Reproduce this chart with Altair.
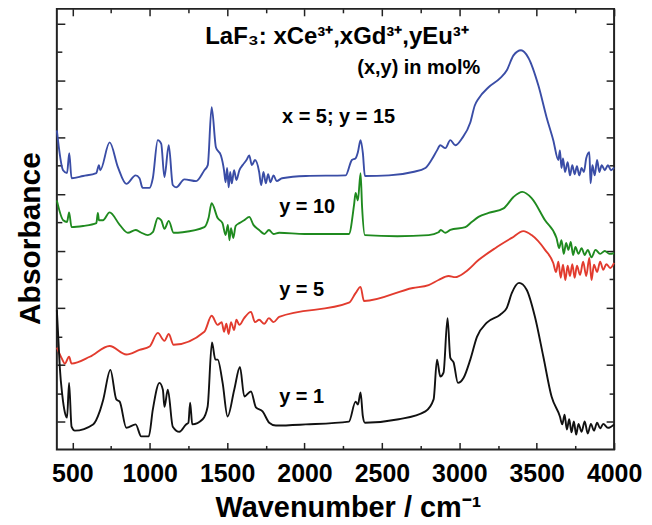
import altair as alt
import pandas as pd

# ---------------- data (wavenumber cm-1, absorbance a.u., offset for clarity) ----------------
blue = [(400,0.512),(440,0.442),(466,0.437),(480,0.472),(495,0.428),(570,0.432),(655,0.437),(665,0.446),(672,0.451),(680,0.442),
        (741,0.491),(795,0.447),(849,0.418),(909,0.433),(934,0.428),(954,0.411),(999,0.411),(1020,0.428),(1052,0.495),(1074,0.489),
        (1095,0.430),(1123,0.486),(1149,0.416),(1171,0.412),(1224,0.426),(1300,0.423),(1353,0.442),(1375,0.451),(1400,0.553),(1428,0.482),
        (1460,0.468),(1480,0.442),(1490,0.421),(1500,0.446),(1510,0.412),(1520,0.439),(1530,0.419),(1545,0.442),(1560,0.425),(1579,0.442),
        (1600,0.451),(1625,0.460),(1643,0.468),(1660,0.451),(1680,0.460),(1707,0.439),(1720,0.416),(1735,0.439),(1750,0.419),(1765,0.435),
        (1780,0.421),(1800,0.433),(1820,0.423),(1855,0.428),(2008,0.432),(2266,0.433),(2306,0.460),(2330,0.463),(2345,0.474),(2362,0.495),
        (2377,0.472),(2390,0.432),(2545,0.433),(2700,0.439),(2781,0.446),(2820,0.460),(2856,0.477),(2877,0.486),(2910,0.481),(2942,0.495),
        (2974,0.486),(3017,0.498),(3071,0.526),(3100,0.556),(3124,0.568),(3189,0.588),(3264,0.604),(3307,0.618),(3350,0.644),(3399,0.653),
        (3446,0.640),(3511,0.591),(3564,0.535),(3607,0.495),(3640,0.460),(3650,0.477),(3660,0.446),(3670,0.463),(3683,0.439),(3700,0.456),
        (3715,0.433),(3730,0.451),(3745,0.435),(3760,0.449),(3775,0.433),(3790,0.446),(3805,0.439),(3820,0.463),(3840,0.474),(3848,0.419),
        (3860,0.451),(3875,0.433),(3890,0.460),(3905,0.439),(3920,0.451),(3940,0.442),(3960,0.451),(3980,0.442),(4000,0.447)]

green = [(400,0.389),(441,0.354),(466,0.351),(479,0.368),(495,0.342),(570,0.344),(655,0.349),(665,0.367),(672,0.354),(698,0.354),
         (741,0.368),(806,0.346),(859,0.332),(909,0.337),(940,0.333),(988,0.328),(1020,0.333),(1052,0.358),(1075,0.354),(1095,0.339),
         (1123,0.353),(1154,0.332),(1213,0.333),(1353,0.342),(1380,0.358),(1400,0.384),(1439,0.358),(1470,0.349),(1490,0.328),(1505,0.346),
         (1515,0.319),(1525,0.340),(1540,0.323),(1555,0.344),(1579,0.349),(1610,0.354),(1643,0.360),(1670,0.346),(1707,0.337),(1740,0.330),
         (1770,0.337),(1800,0.330),(1836,0.332),(2000,0.330),(2287,0.330),(2320,0.381),(2330,0.402),(2345,0.389),(2362,0.437),(2372,0.377),
         (2390,0.328),(2600,0.326),(2802,0.328),(2866,0.333),(2880,0.337),(2910,0.332),(2942,0.337),(3039,0.342),(3080,0.351),(3124,0.360),
         (3189,0.367),(3286,0.375),(3350,0.395),(3407,0.404),(3467,0.393),(3554,0.354),(3628,0.323),(3645,0.305),(3660,0.319),(3675,0.295),
         (3690,0.314),(3705,0.302),(3720,0.316),(3735,0.293),(3750,0.307),(3770,0.295),(3790,0.305),(3810,0.293),(3830,0.302),(3854,0.289),
         (3880,0.302),(3910,0.295),(3940,0.300),(3970,0.295),(4000,0.296)]

red = [(400,0.130),(430,0.112),(452,0.102),(479,0.114),(495,0.102),(613,0.114),(741,0.133),(849,0.118),(934,0.126),(999,0.132),
       (1052,0.156),(1095,0.142),(1123,0.154),(1154,0.135),(1353,0.158),(1400,0.186),(1439,0.170),(1465,0.175),(1480,0.158),(1495,0.172),
       (1510,0.154),(1525,0.175),(1545,0.161),(1560,0.179),(1579,0.170),(1610,0.182),(1654,0.193),(1680,0.175),(1707,0.179),(1740,0.172),
       (1770,0.182),(1800,0.175),(1836,0.184),(2287,0.209),(2330,0.226),(2362,0.237),(2384,0.212),(2700,0.235),(2802,0.240),(2866,0.249),
       (2931,0.256),(2974,0.254),(3039,0.263),(3124,0.284),(3232,0.305),(3339,0.323),(3414,0.335),(3467,0.328),(3554,0.302),(3607,0.279),
       (3625,0.263),(3640,0.281),(3655,0.253),(3670,0.276),(3685,0.249),(3700,0.274),(3715,0.256),(3730,0.277),(3745,0.253),(3760,0.274),
       (3780,0.258),(3800,0.281),(3820,0.256),(3840,0.288),(3854,0.249),(3870,0.276),(3890,0.263),(3910,0.281),(3930,0.267),(3950,0.277),
       (3975,0.270),(4000,0.279)]

black = [(400,0.196),(410,0.144),(419,0.096),(435,0.047),(452,0.016),(466,0.007),(479,0.068),(495,-0.009),(516,-0.016),(634,-0.005),
         (677,0.018),(700,0.039),(746,0.091),(784,0.039),(806,0.035),(849,-0.011),(909,-0.005),(945,-0.026),(994,-0.026),(1020,0.021),
         (1063,0.068),(1085,0.056),(1095,0.026),(1117,0.056),(1149,-0.009),(1192,-0.018),(1235,-0.005),(1250,-0.002),(1261,0.033),(1275,-0.005),
         (1342,0.004),(1374,0.026),(1402,0.139),(1424,0.109),(1439,0.109),(1471,0.068),(1503,0.009),(1546,0.056),(1583,0.096),(1611,0.044),
         (1654,0.053),(1686,0.025),(1729,0.018),(1772,-0.002),(1815,-0.007),(2008,-0.005),(2287,0.000),(2330,0.035),(2345,0.030),(2362,0.051),
         (2377,0.009),(2390,-0.002),(2609,0.004),(2781,0.018),(2834,0.039),(2856,0.109),(2877,0.079),(2898,0.086),(2924,0.182),(2942,0.112),
         (2963,0.104),(2991,0.068),(3028,0.077),(3071,0.109),(3114,0.149),(3178,0.174),(3264,0.188),(3307,0.200),(3339,0.226),(3386,0.244),
         (3435,0.232),(3489,0.184),(3543,0.114),(3596,0.044),(3650,0.009),(3665,-0.005),(3680,0.012),(3695,-0.014),(3710,0.004),(3725,-0.019),
         (3740,0.000),(3755,-0.023),(3770,-0.004),(3790,-0.018),(3810,0.000),(3830,-0.021),(3850,-0.004),(3870,-0.016),(3890,-0.002),(3910,-0.012),
         (3930,-0.004),(3960,-0.011),(4000,-0.005)]

x_major = [500, 1000, 1500, 2000, 2500, 3000, 3500, 4000]
x_minor = [750, 1250, 1750, 2250, 2750, 3250, 3750]
y_major = [0.0, 0.1, 0.2, 0.3, 0.4, 0.5, 0.6, 0.7]
y_minor = [0.05, 0.15, 0.25, 0.35, 0.45, 0.55, 0.65]

series_labels = ["x = 5; y = 15", "y = 10", "y = 5", "y = 1"]
series_label_wn = [1855, 1836, 1836, 1836]
series_label_ab = [0.535, 0.377, 0.232, 0.044]

title_text = ["LaF\u2083: xCe\u00b3\u207a,xGd\u00b3\u207a,yEu\u00b3\u207a"]
title_wn = [2210]
title_ab = [0.677]
sub_text = ["(x,y) in mol%"]
sub_wn = [2738]
sub_ab = [0.621]

# ---------------- chart ----------------
F = "Liberation Sans"
xs = alt.Scale(domain=[400, 4000], nice=False, zero=False)
ys = alt.Scale(domain=[-0.049, 0.726], nice=False, zero=False)


def df_of(pts):
    return pd.DataFrame({"wn": [p[0] for p in pts], "ab": [p[1] for p in pts]})


def tick_axis(orient, values, size):
    return alt.Axis(orient=orient, values=values, labels=False, domain=False, grid=False,
                    ticks=True, tickSize=size, tickWidth=1.5, tickColor="#222",
                    offset=-size, title=None)


x_label_axis = alt.Axis(orient="bottom", values=x_major, format="d", ticks=False, domain=False, grid=False,
                        labelFont=F, labelFontSize=25, labelFontWeight="bold", labelColor="black",
                        labelPadding=12, labelFlush=False,
                        title="Wavenumber / cm\u207b\u00b9", titleFont=F, titleFontSize=29,
                        titleFontWeight="bold", titleColor="black", titlePadding=7, titleX=292)
y_label_axis = alt.Axis(orient="left", labels=False, ticks=False, domain=False, grid=False,
                        title="Absorbance", titleFont=F, titleFontSize=30, titleFontWeight="bold",
                        titleColor="black", titlePadding=11, titleY=230)


def line_layer(pts, color, xaxis, yaxis):
    return alt.Chart(df_of(pts)).mark_line(color=color, strokeWidth=1.9, strokeJoin="round",
                                           interpolate="monotone").encode(
        x=alt.X("wn:Q", scale=xs, axis=xaxis),
        y=alt.Y("ab:Q", scale=ys, axis=yaxis),
    )


l_blue = line_layer(blue, "#3A4DA6", x_label_axis, y_label_axis)
l_green = line_layer(green, "#1F8A1F", tick_axis("bottom", x_major, 7), tick_axis("left", y_major, 8))
l_red = line_layer(red, "#E23B2E", tick_axis("bottom", x_minor, 4), tick_axis("left", y_minor, 5))
l_black = line_layer(black, "#111111", tick_axis("top", x_major, 7), tick_axis("right", y_major, 8))

ann = alt.Chart(pd.DataFrame({"t": series_labels, "wn": series_label_wn, "ab": series_label_ab})).mark_text(
    align="left", baseline="middle", font=F, fontSize=20, fontWeight="bold", color="black").encode(
    x=alt.X("wn:Q", scale=xs, axis=tick_axis("top", x_minor, 4)),
    y=alt.Y("ab:Q", scale=ys, axis=tick_axis("right", y_minor, 5)),
    text="t:N")

ttl = alt.Chart(pd.DataFrame({"t": title_text, "wn": title_wn, "ab": title_ab})).mark_text(
    align="center", baseline="middle", font=F, fontSize=24, fontWeight="bold", color="black").encode(
    x=alt.X("wn:Q", scale=xs, axis=None),
    y=alt.Y("ab:Q", scale=ys, axis=None),
    text="t:N")

sub = alt.Chart(pd.DataFrame({"t": sub_text, "wn": sub_wn, "ab": sub_ab})).mark_text(
    align="center", baseline="middle", font=F, fontSize=20, fontWeight="bold", color="black").encode(
    x=alt.X("wn:Q", scale=xs, axis=None),
    y=alt.Y("ab:Q", scale=ys, axis=None),
    text="t:N")

chart = alt.layer(l_blue, l_green, l_red, l_black, ann, ttl, sub).resolve_axis(
    x="independent", y="independent"
).properties(
    width=559, height=442,
    padding={"left": 49, "top": 0, "right": 30, "bottom": 75},
    autosize=alt.AutoSizeParams(type="none"),
).configure_view(stroke="#222", strokeWidth=2)

chart.save("out.html", embed_options={"renderer": "svg", "actions": False})
